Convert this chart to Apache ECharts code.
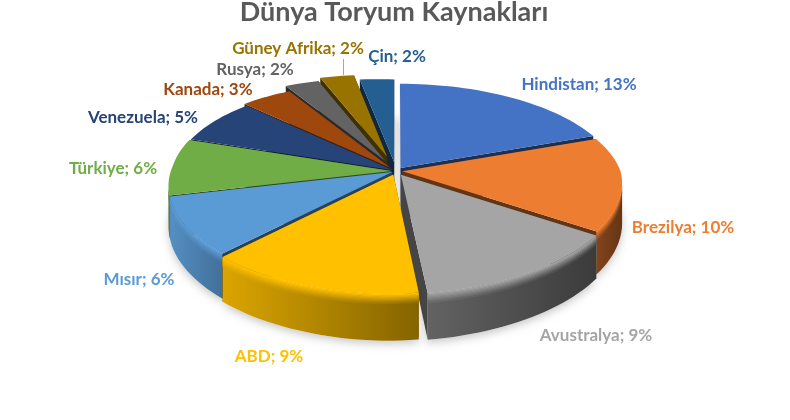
<!DOCTYPE html>
<html><head><meta charset="utf-8">
<style>html,body{margin:0;padding:0;background:#fff}#c{width:790px;height:420px}</style>
<script src="https://cdn.jsdelivr.net/npm/echarts@6/dist/echarts.min.js"></script>
</head><body><div id="c"></div>
<script>
const categories = ['Hindistan','Brezilya','Avustralya','ABD','Mısır','Türkiye','Venezuela','Kanada','Rusya','Güney Afrika','Çin'];
const values = [13,10,9,9,6,6,5,3,2,2,2];
const colors = ['#4472C4','#ED7D31','#A5A5A5','#FFC000','#5B9BD5','#70AD47','#264478','#9E480E','#636363','#997300','#255E91'];
const rimShade = [[.6,.5],[.55,.42],[.6,.36],[.86,.52],[.92,.72],[.6,.45],[.6,.5],[.6,.5],[.6,.5],[.6,.5],[.6,.5]];
const explode = [.037,.03,.045,.037,.02,.02,.015,.04,.11,.15,.09];
const labelPos = [[579,85],[683,228],[596,336],[269,357],[139,280],[113,169],[143,118],[208,90],[255,70],[298,49],[397,57]];

const CX=396, CY=171, RX=218, RY=98.8, P=0.1625, H=39, YAW=11, ROLL=7;
const total = values.reduce((a,b)=>a+b,0);
const rad = Math.PI/180;
const spans = []; let acc = 0;
values.forEach(v=>{ const a=acc/total*360; acc+=v; spans.push([a,acc/total*360]); });
const order = values.map((_,i)=>i).sort((a,b)=>{
  const m=i=>(spans[i][0]+spans[i][1])/2*rad; return Math.cos(m(b))-Math.cos(m(a));
});
function proj(u,v,z){ const w=1+P*v; return [CX+RX*u/w+YAW*Math.min(v,0), CY-RY*v/w+(z||0)/w+ROLL*Math.min(u,0)]; }
function hex(c){return [1,3,5].map(i=>parseInt(c.substr(i,2),16));}
function shade(c,f){const h=hex(c);return 'rgb('+h.map(x=>Math.round(x*f)).join(',')+')';}
function grad(c,l,r){return {type:'linear',x:0,y:0,x2:1,y2:0,colorStops:[{offset:0,color:shade(c,l)},{offset:1,color:shade(c,r)}]};}

function renderItem(params, api){
  const idx = api.value(1);
  const [a0,a1] = spans[idx], mid=(a0+a1)/2*rad;
  const ou=explode[idx]*Math.sin(mid), ov=explode[idx]*Math.cos(mid);
  const col = colors[idx], sh=rimShade[idx];
  const pt=(r,deg,z)=>proj(ou+r*Math.sin(deg*rad),ov+r*Math.cos(deg*rad),z);
  const steps=Math.max(6,Math.ceil((a1-a0)/2));
  const angs=[]; for(let i=0;i<=steps;i++) angs.push(a0+(a1-a0)*i/steps);
  const top=angs.map(d=>pt(1,d,0));
  const apex=pt(0,0,0), apexB=pt(0,0,H);
  const kids=[];
  kids.push({type:'polygon',silent:true,shape:{points:[pt(0,0,H)].concat(angs.map(d=>pt(1,d,H)))},
    style:{fill:'#fff',shadowBlur:9,shadowColor:'rgba(0,0,0,0.22)',shadowOffsetY:3}});
  const dark=shade(col,.42);
  [a0,a1].forEach(d=>{
    kids.push({type:'polygon',silent:true,shape:{points:[apex,pt(1,d,0),pt(1,d,H),apexB]},style:{fill:dark}});
  });
  const front=[]; 
  for(let i=0;i<steps;i++){ if(top[i+1][0]<top[i][0]){ if(!front.length) front.push(angs[i]); front.push(angs[i+1]); } }
  if(front.length){
    const band=(z0,z1,l,r)=>({type:'polygon',silent:true,
      shape:{points:front.map(d=>pt(1,d,z0)).concat(front.slice().reverse().map(d=>pt(1,d,z1)))},
      style:{fill:grad(col,l,r)}});
    kids.push(band(0,H,sh[0],sh[1]));
    const n=8, bev=8;
    for(let k=0;k<n;k++){
      const t=k/n, l=1*(1-t)+sh[0]*t, r=1*(1-t)+sh[1]*t;
      kids.push(band(bev*k/n,bev*(k+1)/n+.5,l,r));
    }
  }
  kids.push({type:'polygon',silent:true,shape:{points:[apex].concat(top)},style:{fill:col}});
  return {type:'group',children:kids};
}
function labelItem(params, api){
  const idx=api.value(1);
  return {type:'group',children:[{type:'text',silent:true,style:{
    x:labelPos[idx][0],y:labelPos[idx][1],text:categories[idx]+'; '+api.value(0)+'%',
    fill:colors[idx],font:'bold 17px Lato',align:'center',verticalAlign:'middle'}}]};
}
const chart = echarts.init(document.getElementById('c'),null,{renderer:'canvas'});
chart.setOption({
  animation:false,
  title:{text:'Dünya Toryum Kaynakları',left:389,top:-6,textAlign:'center',
    textStyle:{fontFamily:'Lato',fontWeight:'bold',fontSize:27,color:'#595959'}},
  graphic:[{type:'line',silent:true,shape:{x1:343.5,y1:59,x2:343.5,y2:75},style:{stroke:'#a6a6a6',lineWidth:1}}],
  series:[
    {type:'custom',coordinateSystem:'none',renderItem:renderItem,silent:true,z:2,
      data:order.map(i=>[values[i],i])},
    {type:'custom',coordinateSystem:'none',renderItem:labelItem,silent:true,z:3,
      data:values.map((v,i)=>[v,i])}
  ]
});
</script></body></html>
